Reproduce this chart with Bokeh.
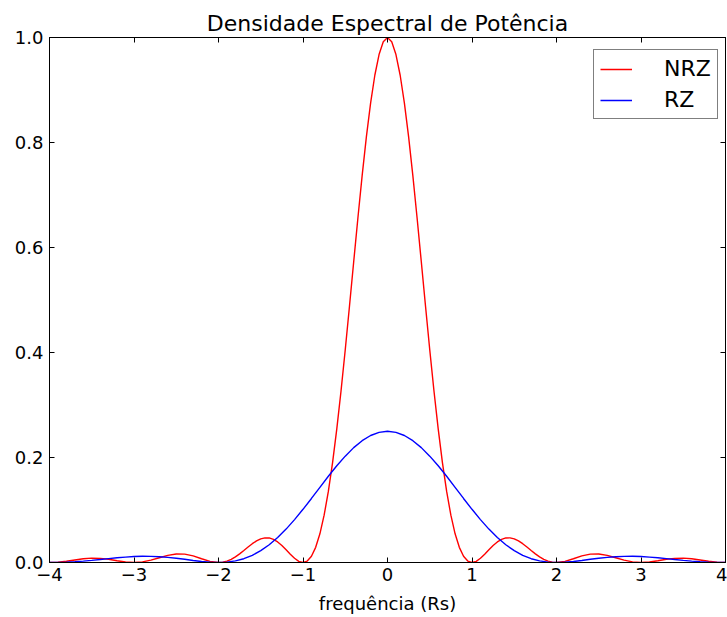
from bokeh.plotting import figure
from bokeh.models import LinearAxis, Legend, LegendItem, FixedTicker, Range1d
from bokeh.embed import file_html
from bokeh.resources import INLINE

title_text = "Densidade Espectral de Potência"
x_label = "frequência (Rs)"
series_names = ["NRZ", "RZ"]
series_colors = ["#ff0000", "#0000ff"]

x_ticks = [-4, -3, -2, -1, 0, 1, 2, 3, 4]
x_tick_labels = ["−4", "−3", "−2", "−1", "0", "1", "2", "3", "4"]
y_ticks = [0.0, 0.2, 0.4, 0.6, 0.8, 1.0]
y_tick_labels = ["0.0", "0.2", "0.4", "0.6", "0.8", "1.0"]

# NRZ spectrum
freq_nrz = [
    -4.0, -3.9, -3.8, -3.7, -3.6, -3.5, -3.4, -3.3, -3.2, -3.1,
    -3.0, -2.9, -2.8, -2.7, -2.6, -2.5, -2.4, -2.3, -2.2, -2.1,
    -2.0, -1.95, -1.9, -1.85, -1.8, -1.75, -1.7, -1.65, -1.6, -1.55,
    -1.5, -1.45, -1.4, -1.35, -1.3, -1.25, -1.2, -1.15, -1.1, -1.05,
    -1.0, -0.95, -0.9, -0.85, -0.8, -0.75, -0.7, -0.65, -0.6, -0.55,
    -0.5, -0.45, -0.4, -0.35, -0.3, -0.25, -0.2, -0.15, -0.1, -0.05,
    0.0, 0.05, 0.1, 0.15, 0.2, 0.25, 0.3, 0.35, 0.4, 0.45,
    0.5, 0.55, 0.6, 0.65, 0.7, 0.75, 0.8, 0.85, 0.9, 0.95,
    1.0, 1.05, 1.1, 1.15, 1.2, 1.25, 1.3, 1.35, 1.4, 1.45,
    1.5, 1.55, 1.6, 1.65, 1.7, 1.75, 1.8, 1.85, 1.9, 1.95,
    2.0, 2.1, 2.2, 2.3, 2.4, 2.5, 2.6, 2.7, 2.8, 2.9,
    3.0, 3.1, 3.2, 3.3, 3.4, 3.5, 3.6, 3.7, 3.8, 3.9, 4.0,
]
psd_nrz = [
    0.0, 0.0006, 0.0024, 0.0048, 0.0071, 0.0083, 0.0079, 0.0061, 0.0034, 0.0010,
    0.0, 0.0012, 0.0045, 0.0091, 0.0136, 0.0162, 0.0159, 0.0125, 0.0072, 0.0022,
    0.0, 0.0007, 0.0027, 0.0061, 0.0108, 0.0165, 0.0229, 0.0295, 0.0358, 0.0411,
    0.0450, 0.0470, 0.0468, 0.0441, 0.0392, 0.0324, 0.0243, 0.0158, 0.0080, 0.0022,
    0.0, 0.0027, 0.0119, 0.0289, 0.0547, 0.0901, 0.1353, 0.1904, 0.2546, 0.3267,
    0.4053, 0.4881, 0.5728, 0.6566, 0.7368, 0.8106, 0.8751, 0.9281, 0.9675, 0.9918,
    1.0, 0.9918, 0.9675, 0.9281, 0.8751, 0.8106, 0.7368, 0.6566, 0.5728, 0.4881,
    0.4053, 0.3267, 0.2546, 0.1904, 0.1353, 0.0901, 0.0547, 0.0289, 0.0119, 0.0027,
    0.0, 0.0022, 0.0080, 0.0158, 0.0243, 0.0324, 0.0392, 0.0441, 0.0468, 0.0470,
    0.0450, 0.0411, 0.0358, 0.0295, 0.0229, 0.0165, 0.0108, 0.0061, 0.0027, 0.0007,
    0.0, 0.0022, 0.0072, 0.0125, 0.0159, 0.0162, 0.0136, 0.0091, 0.0045, 0.0012,
    0.0, 0.0010, 0.0034, 0.0061, 0.0079, 0.0083, 0.0071, 0.0048, 0.0024, 0.0006, 0.0,
]

# RZ spectrum
freq_rz = [
    -4.0, -3.9, -3.8, -3.7, -3.6, -3.5, -3.4, -3.3, -3.2, -3.1,
    -3.0, -2.9, -2.8, -2.7, -2.6, -2.5, -2.4, -2.3, -2.2, -2.1,
    -2.0, -1.9, -1.8, -1.7, -1.6, -1.5, -1.4, -1.3, -1.2, -1.1,
    -1.0, -0.9, -0.8, -0.7, -0.6, -0.5, -0.4, -0.3, -0.2, -0.1,
    0.0, 0.1, 0.2, 0.3, 0.4, 0.5, 0.6, 0.7, 0.8, 0.9,
    1.0, 1.1, 1.2, 1.3, 1.4, 1.5, 1.6, 1.7, 1.8, 1.9,
    2.0, 2.1, 2.2, 2.3, 2.4, 2.5, 2.6, 2.7, 2.8, 2.9,
    3.0, 3.1, 3.2, 3.3, 3.4, 3.5, 3.6, 3.7, 3.8, 3.9, 4.0,
]
psd_rz = [
    0.0, 0.0002, 0.0007, 0.0015, 0.0027, 0.0041, 0.0057, 0.0074, 0.0090, 0.0103,
    0.0113, 0.0118, 0.0117, 0.0110, 0.0098, 0.0081, 0.0061, 0.0039, 0.0020, 0.0006,
    0.0, 0.0007, 0.0030, 0.0072, 0.0137, 0.0225, 0.0338, 0.0476, 0.0636, 0.0817,
    0.1013, 0.1220, 0.1432, 0.1642, 0.1842, 0.2026, 0.2188, 0.2320, 0.2419, 0.2479,
    0.25, 0.2479, 0.2419, 0.2320, 0.2188, 0.2026, 0.1842, 0.1642, 0.1432, 0.1220,
    0.1013, 0.0817, 0.0636, 0.0476, 0.0338, 0.0225, 0.0137, 0.0072, 0.0030, 0.0007,
    0.0, 0.0006, 0.0020, 0.0039, 0.0061, 0.0081, 0.0098, 0.0110, 0.0117, 0.0118,
    0.0113, 0.0103, 0.0090, 0.0074, 0.0057, 0.0041, 0.0027, 0.0015, 0.0007, 0.0002, 0.0,
]

FONT = "DejaVu Sans"

p = figure(
    width=727, height=617,
    output_backend="svg", toolbar_location=None,
    x_range=Range1d(-4, 4), y_range=Range1d(0, 1),
    min_border_left=49, min_border_right=2,
    min_border_top=37, min_border_bottom=55,
    background_fill_color="white", border_fill_color="white",
)
p.grid.visible = False
p.outline_line_color = "black"
p.outline_line_width = 1

p.title.text = title_text
p.title.align = "center"
p.title.text_font = FONT
p.title.text_font_size = "22px"
p.title.text_font_style = "normal"
p.title.text_color = "black"
p.title.standoff = 3

def style_axis(ax, ticks, labels, show_labels=True):
    ax.ticker = FixedTicker(ticks=ticks)
    ax.major_label_overrides = {t: l for t, l in zip(ticks, labels)}
    ax.major_tick_in = 5
    ax.major_tick_out = 0
    ax.minor_tick_in = 0
    ax.minor_tick_out = 0
    ax.axis_line_color = "black"
    ax.major_tick_line_color = "black"
    ax.major_label_text_font = FONT
    ax.major_label_text_color = "black"
    if show_labels:
        ax.major_label_text_font_size = "18px"
        ax.major_label_standoff = 6
    else:
        ax.major_label_text_font_size = "0px"
        ax.major_label_standoff = 0

xaxis = p.xaxis[0]
yaxis = p.yaxis[0]
style_axis(xaxis, x_ticks, x_tick_labels)
style_axis(yaxis, y_ticks, y_tick_labels)
xaxis.major_label_standoff = 5
xaxis.axis_label = x_label
xaxis.axis_label_text_font = FONT
xaxis.axis_label_text_font_size = "18px"
xaxis.axis_label_text_font_style = "normal"
xaxis.axis_label_text_color = "black"
xaxis.axis_label_standoff = 9

top_axis = LinearAxis()
right_axis = LinearAxis()
style_axis(top_axis, x_ticks, ["" for _ in x_ticks], show_labels=False)
style_axis(right_axis, y_ticks, ["" for _ in y_ticks], show_labels=False)
p.add_layout(top_axis, "above")
p.add_layout(right_axis, "right")

r_nrz = p.line(freq_nrz, psd_nrz, line_color=series_colors[0], line_width=1.4)
r_rz = p.line(freq_rz, psd_rz, line_color=series_colors[1], line_width=1.4)

legend = Legend(
    items=[LegendItem(label=series_names[0], renderers=[r_nrz]),
           LegendItem(label=series_names[1], renderers=[r_rz])],
    location=(544, 443),
    margin=0,
    padding=6,
    spacing=6,
    glyph_width=32,
    glyph_height=22,
    label_standoff=32,
    label_text_font=FONT,
    label_text_font_size="22px",
    label_text_color="black",
    border_line_color="black",
    border_line_width=1,
    background_fill_color="white",
    background_fill_alpha=1.0,
)
p.add_layout(legend, "center")

open("out.html", "w").write(file_html(p, INLINE))
